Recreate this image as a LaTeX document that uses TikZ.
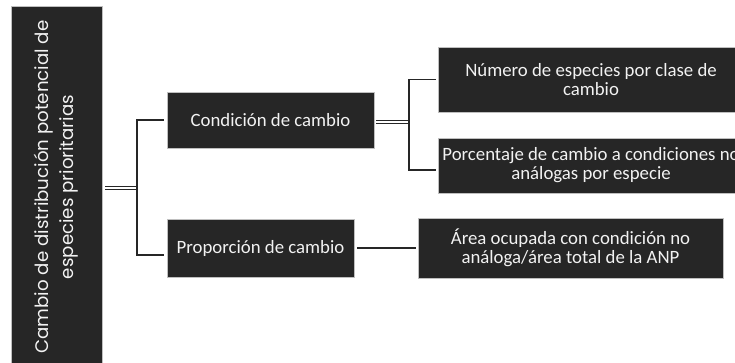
\documentclass[tikz,border=0pt]{standalone}
\usepackage{fontspec}
\setmainfont{Carlito}
\newfontfamily\popfont{Poppins}
\definecolor{boxfill}{HTML}{262626}
\definecolor{boxline}{HTML}{BFBFBF}
\definecolor{txt}{HTML}{F2F2F2}
\definecolor{lnk}{HTML}{262626}
\begin{document}
\begin{tikzpicture}[x=1pt,y=-1pt,
  dbox/.style={fill=boxfill,draw=boxline,line width=0.6pt,text=txt,align=center,inner sep=0pt,
    font=\fontsize{18.8}{19}\selectfont},
  conn/.style={draw=lnk,line width=1.8pt},
  dbl/.style={draw=lnk,line width=1.3pt,double=white,double distance=2pt}]
\useasboundingbox (0,0) rectangle (735,363);
\node[dbox,rotate=90,minimum width=362pt,minimum height=91pt,
  font=\popfont\fontsize{18.2}{25}\selectfont] (root) at (56.5,187)
  {Cambio de distribución potencial de\\especies prioritarias};
\node[dbox,minimum width=207pt,minimum height=56pt] (cond) at (270.5,120) {Condición de cambio};
\node[dbox,minimum width=187pt,minimum height=58pt] (prop) at (260.5,248) {Proporción de cambio};
\node[dbox,minimum width=306pt,minimum height=65pt] (num) at (591,79.5) {Número de especies por clase de\\cambio};
\node[dbox,minimum width=306pt,minimum height=55pt] (porc) at (591,165.5) {Porcentaje de cambio a condiciones no\\análogas por especie};
\node[dbox,minimum width=305pt,minimum height=60pt] (area) at (570.5,248) {Área ocupada con condición no\\análoga/área total de la ANP};
\coordinate (b1) at (137,188);
\coordinate (b2) at (409,122);
\draw[dbl,shorten <=3pt] (root.south |- b1) -- (b1);
\draw[conn,shorten <=3pt,shorten >=3pt] (cond.west) -| (b1) |- ([yshift=-7pt]prop.west);
\draw[dbl,shorten <=2pt] (cond.east |- b2) -- (b2);
\draw[conn,shorten <=2pt,shorten >=2pt] (num.west) -| (b2) |- ([yshift=-4.5pt]porc.west);
\draw[conn,shorten <=3pt,shorten >=2pt] (prop.east) -- (area.west);
\end{tikzpicture}
\end{document}
